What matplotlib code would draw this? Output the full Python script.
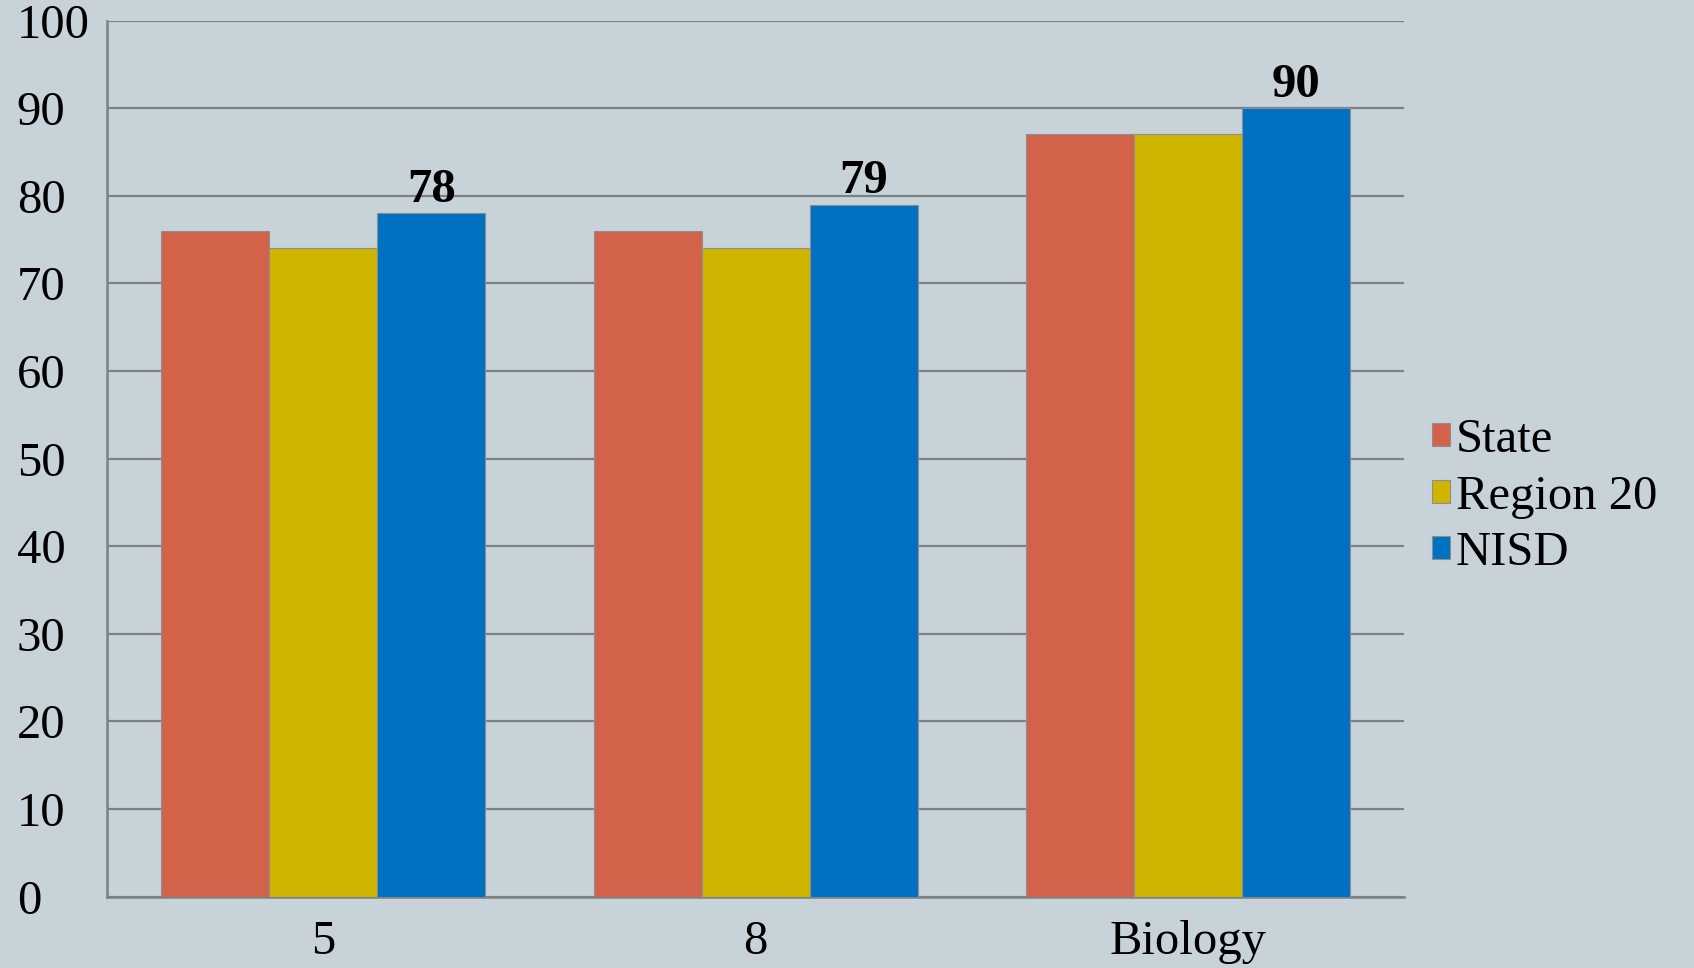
import matplotlib
matplotlib.use("Agg")
import matplotlib.pyplot as plt
import numpy as np

categories = ["5", "8", "Biology"]
series_names = ["State", "Region 20", "NISD"]
state = [76, 76, 87]
region20 = [74, 74, 87]
nisd = [78, 79, 90]
labelled_series = nisd
yticks = [0, 10, 20, 30, 40, 50, 60, 70, 80, 90, 100]

colors = ["#D2634A", "#CFB400", "#0070C0"]
bg = "#C8D3D9"
grid_c = "#7C8184"

plt.rcParams['font.family'] = ['Liberation Serif', 'DejaVu Serif']
FS = 35

fig = plt.figure(figsize=(16.94, 9.68), dpi=100, facecolor=bg)
ax = fig.add_axes([0.0632, 0.0737, 0.8291 - 0.0632, 0.9788 - 0.0737])
ax.set_facecolor(bg)

x = np.arange(len(categories))
w = 0.25
bars_all = []
for i, (vals, name) in enumerate(zip([state, region20, nisd], series_names)):
    b = ax.bar(x + (i - 1) * w, vals, width=w, color=colors[i], edgecolor="#8A8F92",
               linewidth=0.8, label=name, zorder=3)
    bars_all.append(b)

for rect, v in zip(bars_all[2], labelled_series):
    ax.annotate(str(v), (rect.get_x() + rect.get_width() / 2, rect.get_height()),
                xytext=(0, 1), textcoords="offset points", ha="center", va="bottom",
                fontsize=FS, fontweight="bold", color="black", zorder=5)

ax.set_xlim(-0.5, len(categories) - 0.5)
ax.set_ylim(0, 100)
ax.set_yticks(yticks)
ax.set_yticklabels([str(t) for t in yticks])
ax.set_xticks(x)
ax.set_xticklabels(categories)
ax.yaxis.grid(True, color=grid_c, linewidth=1.6, zorder=0)
ax.set_axisbelow(True)
for s in ["top", "right"]:
    ax.spines[s].set_visible(False)
for s in ["left", "bottom"]:
    ax.spines[s].set_color(grid_c)
    ax.spines[s].set_linewidth(1.8)
ax.tick_params(axis="both", length=0, labelsize=FS, colors="black")
ax.tick_params(axis="y", pad=65)
for lab in ax.get_yticklabels():
    lab.set_ha("left")
ax.tick_params(axis="x", pad=17)

leg = fig.legend(loc="center left", bbox_to_anchor=(0.8455, 0.487), frameon=False,
                 fontsize=FS, handlelength=0.36, handleheight=0.36, handletextpad=0.12,
                 labelspacing=0.26, borderaxespad=0, borderpad=0)
for h in leg.legend_handles:
    h.set_edgecolor("#8A8F92")
    h.set_linewidth(0.8)

fig.savefig("out.png", dpi=100, facecolor=bg)
